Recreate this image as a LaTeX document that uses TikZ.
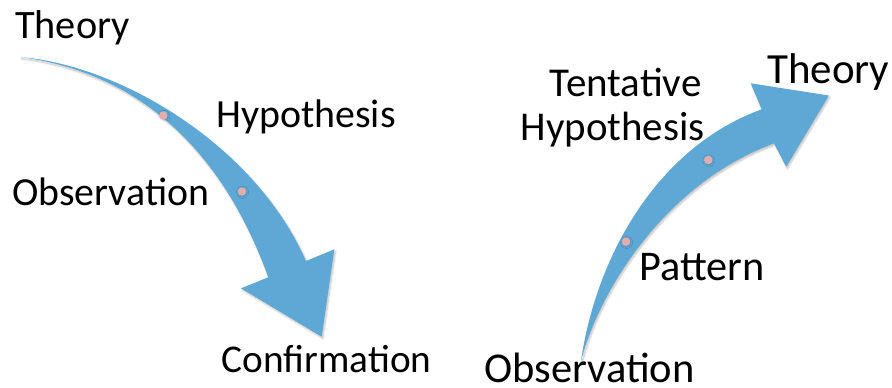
\documentclass[tikz,border=0pt]{standalone}
\usepackage{fontspec}
\setmainfont{Carlito}
\usetikzlibrary{shadows.blur}
\definecolor{arrowblue}{RGB}{94,168,214}
\definecolor{dotpink}{RGB}{228,172,172}
\tikzset{
  bigarrow/.style={fill=arrowblue, draw=none,
    blur shadow={shadow xshift=1.2pt, shadow yshift=-1.8pt, shadow blur steps=6, shadow opacity=25}},
  stepdot/.style={circle, fill=dotpink, inner sep=0pt, minimum size=8.5pt,
    blur shadow={shadow xshift=0.6pt, shadow yshift=-0.8pt, shadow blur steps=3, shadow opacity=15}},
  lbl/.style={anchor=base west, inner sep=0pt, text=black},
}
\begin{document}
\begin{tikzpicture}[x=1pt, y=-1pt]
\useasboundingbox (0,0) rectangle (892,388);

% deductive arrow: theory down to confirmation
\fill[bigarrow] (20,57) .. controls (120,65) and (255,145) .. (306,261)
  -- (334.3,249.3) -- (321.7,336.7) -- (241,288.3) -- (268.3,277.3)
  .. controls (215,130) and (120,70) .. (20,57) -- cycle;

% inductive arrow: observation up to theory
\fill[bigarrow] (580.7,363) .. controls (595,260) and (655,148) .. (761.7,109.3)
  -- (750.7,83.3) -- (828.8,95.5) -- (786.2,166.7) -- (774,143.3)
  .. controls (660,185) and (595,300) .. (580.7,363) -- cycle;

% stage markers
\node[stepdot] (d1) at (163.3,115.5) {};
\node[stepdot] (d2) at (242,191.5) {};
\node[stepdot] (i1) at (626,241.7) {};
\node[stepdot] (i2) at (708.3,160) {};

% labels, deductive
\node[lbl, font=\fontsize{40.3}{44}\selectfont] (thL) at (15,38) {Theory};
\node[lbl, font=\fontsize{39.9}{44}\selectfont] (hyL) at (216,127) {Hypothesis};
\node[lbl, font=\fontsize{39.8}{44}\selectfont] (obL) at (12,205.5) {Observation};
\node[lbl, font=\fontsize{39.3}{44}\selectfont] (cf) at (221.5,372) {Confirmation};

% labels, inductive
\node[lbl, font=\fontsize{42.5}{44}\selectfont] (obR) at (484,382.5) {Observation};
\node[lbl, font=\fontsize{42.3}{44}\selectfont] (pt) at (639,280) {Pattern};
\node[lbl, font=\fontsize{41}{44}\selectfont] (tt) at (549.5,96) {Tentative};
\node[lbl, font=\fontsize{40.9}{44}\selectfont] (hyR) at (520.5,140) {Hypothesis};
\node[lbl, font=\fontsize{43}{44}\selectfont] (thR) at (767,83.3) {Theory};
\end{tikzpicture}
\end{document}
